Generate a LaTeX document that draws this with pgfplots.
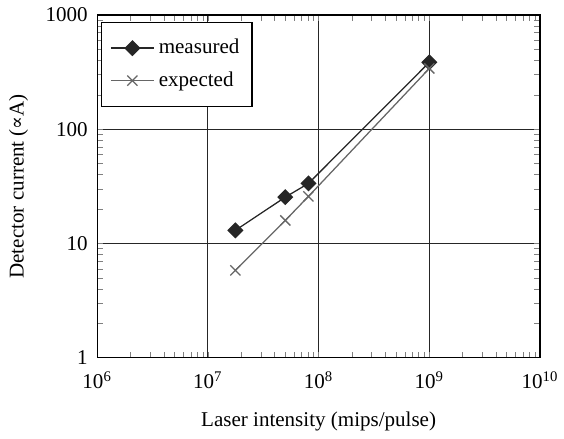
\documentclass[border=0pt]{standalone}
\usepackage{fontspec}
\setmainfont{Liberation Serif}
\newfontfamily\dvs{DejaVu Serif}
\usepackage{pgfplots}
\pgfplotsset{compat=1.18}
\begin{document}
\begin{tikzpicture}
\begin{axis}[
  name=ax,
  xmode=log, ymode=log,
  scale only axis,
  width=210.5pt, height=162.9pt,
  xmin=1e6, xmax=1e10, ymin=1, ymax=1000,
  xtick={1e6,1e7,1e8,1e9,1e10},
  xticklabels={10\textsuperscript{6},10\textsuperscript{7},10\textsuperscript{8},10\textsuperscript{9},10\textsuperscript{10}},
  ytick={1,10,100,1000},
  yticklabels={1,10,100,1000},
  minor xtick={}, minor ytick={},
  major tick length=0pt,
  xticklabel style={yshift=-3pt},
  yticklabel style={xshift=-1pt},
  grid=major,
  major grid style={black!85, line width=0.5pt},
  axis line style={black, line width=0.6pt},
  /pgf/number format/assume math mode=true,
  xlabel={Laser intensity (mips/pulse)},
  ylabel={Detector current ({\dvs\small ∝}A)},
  xlabel style={yshift=-4pt},
  ylabel style={yshift=1.5pt},
  legend style={at={(rel axis cs:0.009,0.98)}, anchor=north west,
    draw=black, line width=0.6pt, inner xsep=4pt, inner ysep=6pt,
    row sep=3pt, font=\normalsize, legend cell align=left},
  legend image code/.code={\draw[#1] (0cm,0cm) -- (0.36cm,0cm) (0.36cm,0cm) -- (0.72cm,0cm); \path[#1, only marks] plot coordinates {(0.36cm,0cm)};},
]
\addplot[black!85, line width=0.6pt, mark=square*, mark size=2.4pt,
  mark options={rotate=45, solid, fill=black!85}]
  coordinates {(1.77e7,13) (5.0e7,25.4) (8.1e7,33.5) (1.0e9,385)};
\addlegendentry{measured}
\addplot[black!60, line width=0.6pt, mark=x, mark size=3.4pt,
  mark options={solid, line width=0.6pt}]
  coordinates {(1.77e7,5.8) (5.0e7,15.9) (8.1e7,25.8) (1.0e9,340)};
\addlegendentry{expected}
\end{axis}
\pgfresetboundingbox
\path (ax.south west) ++(-46.2pt,-38.6pt) coordinate (bl);
\path (ax.north east) ++(11.4pt,7.1pt) coordinate (tr);
\useasboundingbox (bl) rectangle (tr);
\end{tikzpicture}
\end{document}
